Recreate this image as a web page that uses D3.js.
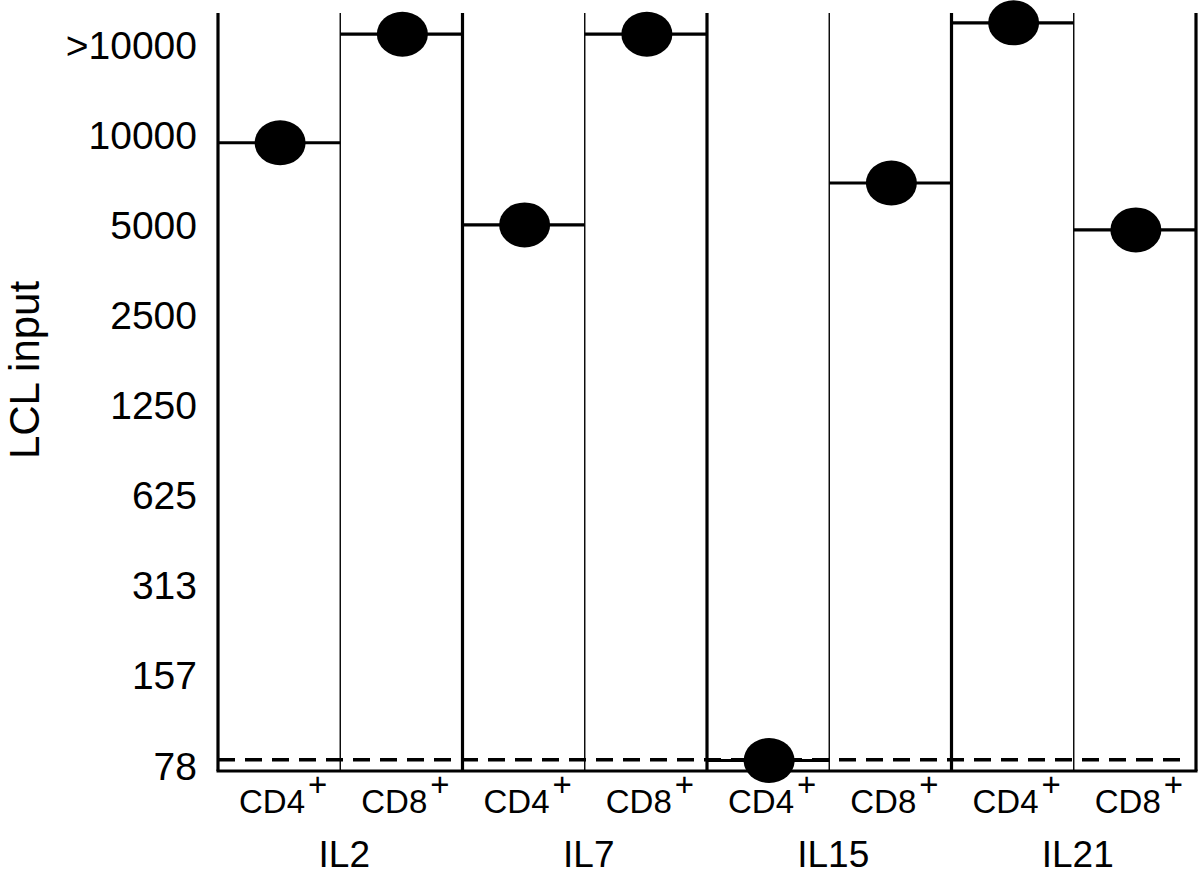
<!DOCTYPE html>
<html lang="en">
<head>
<meta charset="utf-8">
<style>
    body { margin: 0; background: #fff; }
    text { font-family: "Liberation Sans", Arial, sans-serif; fill: #000; }
    .tick text { font-size: 39px; }
    .cell { font-size: 33px; }
    .group { font-size: 37px; }
    .ytitle { font-size: 42px; }
</style>
<script src="https://d3js.org/d3.v7.min.js"></script>
</head>
<body>
<svg width="1200" height="878"></svg>
<script>
    // data
    var groups = ["IL2", "IL7", "IL15", "IL21"];
    var cells = ["CD4", "CD8"];
    var cd4 = [9500, 5050, 82, 23900];
    var cd8 = [21900, 21900, 6970, 4860];
    var tickVals = [78, 157, 313, 625, 1250, 2500, 5000, 10000, 20000];
    var tickLabels = ["78", "157", "313", "625", "1250", "2500", "5000", "10000", ">10000"];
    var limit = 82.5;

    var svg = d3.select("svg");
    var m = {left: 218, right: 1196, top: 13, bottom: 771};

    var cols = [];
    groups.forEach(function(g, i) {
        cols.push({group: g, cell: cells[0], key: g + "-" + cells[0], value: cd4[i]});
        cols.push({group: g, cell: cells[1], key: g + "-" + cells[1], value: cd8[i]});
    });

    var x = d3.scaleBand().domain(cols.map(function(d) { return d.key; }))
        .range([m.left, m.right]);
    var xg = d3.scaleBand().domain(groups).range([m.left, m.right]);

    var y = d3.scaleLog().base(2).domain([78, 20000]).range([767, 46]);

    // y axis labels
    var yAxis = d3.axisLeft(y).tickValues(tickVals).tickSize(0).tickPadding(21)
        .tickFormat(function(d, i) { return tickLabels[i]; });
    var ag = svg.append("g").attr("transform", "translate(" + m.left + ",0)").call(yAxis);
    ag.select(".domain").remove();
    ag.selectAll(".tick text").attr("font-family", null).attr("font-size", null);

    // column separators
    var bounds = x.domain().map(function(k) { return x(k); }).concat([m.right]);
    svg.selectAll(".sep").data(bounds).enter().append("line")
        .attr("x1", function(d) { return d; })
        .attr("x2", function(d) { return d; })
        .attr("y1", m.top).attr("y2", m.bottom)
        .attr("stroke", "#000")
        .attr("stroke-width", function(d, i) { return i % 2 === 0 ? 3.2 : 1.4; });

    // baseline
    svg.append("line")
        .attr("x1", m.left - 1.5).attr("x2", m.right + 1.5)
        .attr("y1", m.bottom).attr("y2", m.bottom)
        .attr("stroke", "#000").attr("stroke-width", 3);

    // detection limit
    svg.append("line")
        .attr("x1", m.left).attr("x2", m.right - 14)
        .attr("y1", y(limit)).attr("y2", y(limit))
        .attr("stroke", "#000").attr("stroke-width", 3.6)
        .attr("stroke-dasharray", "17,10");

    // value levels
    svg.selectAll(".lvl").data(cols).enter().append("line")
        .attr("x1", function(d) { return x(d.key); })
        .attr("x2", function(d) { return x(d.key) + x.bandwidth(); })
        .attr("y1", function(d) { return y(d.value); })
        .attr("y2", function(d) { return y(d.value); })
        .attr("stroke", "#000").attr("stroke-width", 3.2);

    svg.selectAll(".dot").data(cols).enter().append("ellipse")
        .attr("cx", function(d) { return x(d.key) + x.bandwidth() / 2 + 1; })
        .attr("cy", function(d) { return y(d.value); })
        .attr("rx", 25.5).attr("ry", 22.5)
        .attr("fill", "#000");

    // cell labels
    var cl = svg.selectAll(".cell").data(cols).enter().append("text")
        .attr("class", "cell")
        .attr("x", function(d) { return x(d.key) + x.bandwidth() / 2 + 4; })
        .attr("y", 813)
        .attr("text-anchor", "middle");
    cl.append("tspan").text(function(d) { return d.cell; });
    cl.append("tspan").attr("dx", 3).attr("dy", -17).text("+");

    // group labels
    svg.selectAll(".group").data(groups).enter().append("text")
        .attr("class", "group")
        .attr("x", function(d) { return xg(d) + xg.bandwidth() / 2 + 4; })
        .attr("y", 867)
        .attr("text-anchor", "middle")
        .text(function(d) { return d; });

    svg.append("text")
        .attr("class", "ytitle")
        .attr("transform", "translate(39,370) rotate(-90)")
        .attr("text-anchor", "middle")
        .text("LCL input");
</script>
</body>
</html>
